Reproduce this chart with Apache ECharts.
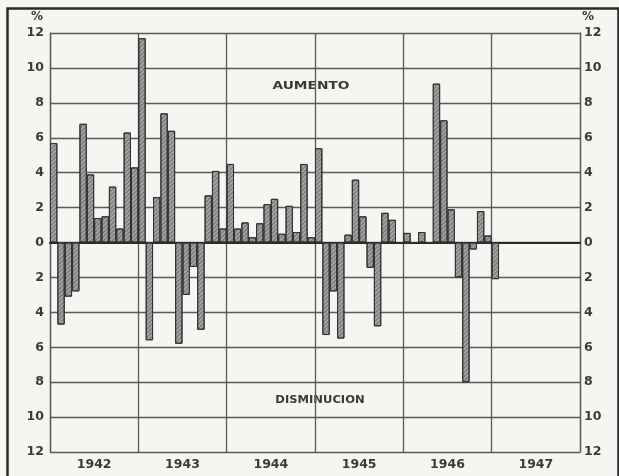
<!DOCTYPE html>
<html>
<head>
<meta charset="utf-8">
<script src="https://cdn.jsdelivr.net/npm/echarts@6/dist/echarts.min.js"></script>
<style>
html,body{margin:0;padding:0;background:#f5f5f1;}
#chart{width:619px;height:476px;}
</style>
</head>
<body>
<div id="chart"></div>
<script>
// Monthly change (%), Jan 1942 .. Jan 1947
var years = ['1942', '1943', '1944', '1945', '1946', '1947'];
var values1942 = [5.7, -4.7, -3.1, -2.8, 6.8, 3.9, 1.4, 1.5, 3.2, 0.8, 6.3, 4.3];
var values1943 = [11.7, -5.6, 2.6, 7.4, 6.4, -5.8, -3.0, -1.4, -5.0, 2.7, 4.1, 0.8];
var values1944 = [4.5, 0.8, 1.15, 0.3, 1.1, 2.2, 2.5, 0.5, 2.1, 0.6, 4.5, 0.3];
var values1945 = [5.4, -5.3, -2.8, -5.5, 0.45, 3.6, 1.5, -1.45, -4.8, 1.7, 1.3, 0];
var values1946 = [0.55, 0, 0.6, 0, 9.1, 7.0, 1.9, -2.0, -8.0, -0.4, 1.8, 0.4];
var values1947 = [-2.1, null, null, null, null, null, null, null, null, null, null, null];
var yTicks = [-12, -10, -8, -6, -4, -2, 0, 2, 4, 6, 8, 10, 12];
var upLabel = 'AUMENTO';
var downLabel = 'DISMINUCION';

var months = [];
years.forEach(function (y) { for (var m = 1; m <= 12; m++) months.push(y + '-' + (m < 10 ? '0' + m : m)); });
var values = [].concat(values1942, values1943, values1944, values1945, values1946, values1947);

var ink = '#3a3a3a';
var gridCol = '#5a5a5a';
var font = 'DejaVu Sans, Verdana, sans-serif';

var chart = echarts.init(document.getElementById('chart'), null, {renderer: 'canvas'});
var labelStyle = {color: ink, fontSize: 12.5, fontFamily: font, fontWeight: 'bold',
  formatter: function (v) { return String(Math.abs(v)); }};
var yAxisCommon = {
  type: 'value', min: yTicks[0], max: yTicks[yTicks.length - 1], interval: 2,
  axisLine: {show: true, lineStyle: {color: gridCol, width: 1.3}},
  axisTick: {show: false},
  name: '%', nameLocation: 'end', nameGap: 10
};
chart.setOption({
  backgroundColor: '#f5f5f1',
  animation: false,
  grid: {left: 50, right: 39, top: 33, bottom: 24},
  xAxis: [{
    type: 'category', data: months, boundaryGap: true,
    axisLine: {show: true, onZero: true, lineStyle: {color: '#2a2a2a', width: 2.2}},
    axisTick: {show: false},
    axisLabel: {show: false},
    splitLine: {show: true, interval: 11, lineStyle: {color: gridCol, width: 1.3}}
  }, {
    type: 'category', data: years, position: 'bottom', boundaryGap: true,
    axisLine: {show: false, onZero: false},
    axisTick: {show: false},
    splitLine: {show: false},
    axisLabel: {color: ink, fontSize: 12.5, fontFamily: font, fontWeight: 'bold', margin: 6}
  }],
  yAxis: [
    Object.assign({}, yAxisCommon, {position: 'left',
      splitLine: {show: true, lineStyle: {color: gridCol, width: 1.3}},
      axisLabel: Object.assign({}, labelStyle, {margin: 6}),
      nameTextStyle: {color: ink, fontSize: 12, fontFamily: font, fontWeight: 'bold',
        align: 'right', padding: [0, 7, 0, 0]}}),
    Object.assign({}, yAxisCommon, {position: 'right', splitLine: {show: false},
      axisLabel: Object.assign({}, labelStyle, {margin: 4}),
      nameTextStyle: {color: ink, fontSize: 12, fontFamily: font, fontWeight: 'bold',
        align: 'left', padding: [0, 0, 0, 2]}})
  ],
  series: [{
    type: 'bar', xAxisIndex: 0, yAxisIndex: 0, data: values,
    barCategoryGap: '0%',
    itemStyle: {
      color: '#a3a3a3', borderColor: '#333', borderWidth: 1,
      decal: {symbol: 'rect', symbolSize: 1, dashArrayX: [[1, 0]], dashArrayY: [1, 2],
        rotation: -Math.PI / 4, color: 'rgba(50,50,50,0.45)'}
    }
  }],
  graphic: [
    {type: 'rect', left: 5, top: 6, shape: {width: 611, height: 490},
      style: {fill: 'none', stroke: '#2a2a2a', lineWidth: 2.5}, silent: true},
    {type: 'text', x: 311, y: 86, scaleX: 1.25, style: {text: upLabel, fill: ink,
      font: 'bold 11px ' + font, align: 'center', verticalAlign: 'middle'}},
    {type: 'text', x: 320, y: 400, scaleX: 1.05, style: {text: downLabel, fill: ink,
      font: 'bold 11px ' + font, align: 'center', verticalAlign: 'middle'}}
  ]
});
</script>
</body>
</html>
